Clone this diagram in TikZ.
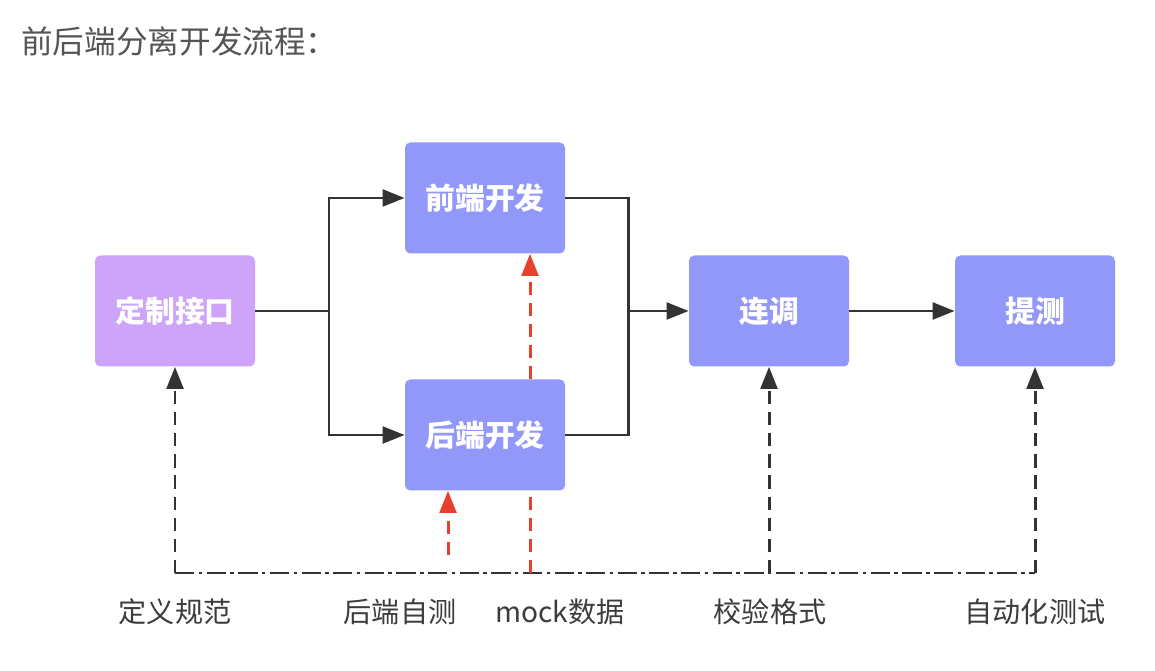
\documentclass[tikz,border=0pt]{standalone}
\usepackage{fontspec}
\setmainfont{Noto Sans CJK SC}
\usetikzlibrary{arrows.meta}
\definecolor{purp}{RGB}{206,164,250}
\definecolor{blu}{RGB}{146,151,250}
\definecolor{dark}{RGB}{51,51,51}
\definecolor{redd}{RGB}{232,64,46}
\definecolor{titlec}{RGB}{85,85,85}
\definecolor{labc}{RGB}{60,60,60}
\tikzset{
  box/.style={rounded corners=3pt, minimum width=160*0.02cm, minimum height=111*0.02cm, text=white, font=\fontsize{17}{19}\selectfont\bfseries, inner sep=0pt},
  flow/.style={draw=dark, line width=1.7pt},
  arr/.style={-{Triangle[length=12.5pt,width=9.5pt]}},
  dashv/.style={draw=dark, line width=1.7pt, dash pattern=on 7.5pt off 4.5pt},
  dashr/.style={draw=redd, line width=1.7pt, dash pattern=on 7.5pt off 4.5pt},
  dashdot/.style={draw=dark, line width=1.7pt, dash pattern=on 11pt off 2.5pt on 2pt off 2.5pt},
  lab/.style={text=labc, font=\fontsize{16}{18}\selectfont},
}
\begin{document}
\begin{tikzpicture}[x=0.02cm,y=-0.02cm]
\useasboundingbox (0,0) rectangle (1155,671);
\fill[white] (0,0) rectangle (1155,671);
\node[anchor=west, text=titlec, font=\fontsize{18}{21}\selectfont, inner sep=0pt] (title) at (21,41) {前后端分离开发流程：};

\node[box, fill=purp] (dz) at (175,311) {定制接口};
\node[box, fill=blu] (qd) at (485,198) {前端开发};
\node[box, fill=blu] (hd) at (485,435) {后端开发};
\node[box, fill=blu] (lt) at (769,311) {连调};
\node[box, fill=blu] (tc) at (1035,311) {提测};

% junctions
\coordinate (j1) at (329,311);
\coordinate (j2) at (628,311);

\draw[flow] (dz.east) -- (j1);
\draw[flow,arr] (j1) |- (qd.west);
\draw[flow,arr] (j1) |- (hd.west);
\draw[flow] (qd.east) -| (j2);
\draw[flow] (hd.east) -| (j2);
\draw[flow,arr] (j2) -- (lt.west);
\draw[flow,arr] (lt.east) -- (tc.west);

% bottom dash-dot line
\coordinate (bl) at (175,573);
\coordinate (br) at (1035,573);
\coordinate (bm) at (769,573);
\coordinate (mockbase) at (530,573);
\coordinate (selfbase) at (448,555);
\draw[dashdot] (bl) -- (br);
\draw[dashv,arr] (bl) -- (dz.south);
\draw[dashv,arr] (bm) -- (lt.south);
\draw[dashv,arr] (br) -- (tc.south);

\draw[dashr,arr] (selfbase) -- (selfbase |- hd.south);
\draw[dashr] (mockbase) -- (mockbase |- hd.south);
\draw[dashr,arr] (mockbase |- hd.north) -- (mockbase |- qd.south);

\node[lab] (l1) at (175,612) {定义规范};
\node[lab] (l2) at (400,612) {后端自测};
\node[lab] (l3) at (560,612) {mock数据};
\node[lab] (l4) at (770,612) {校验格式};
\node[lab] (l5) at (1035,612) {自动化测试};
\end{tikzpicture}
\end{document}
